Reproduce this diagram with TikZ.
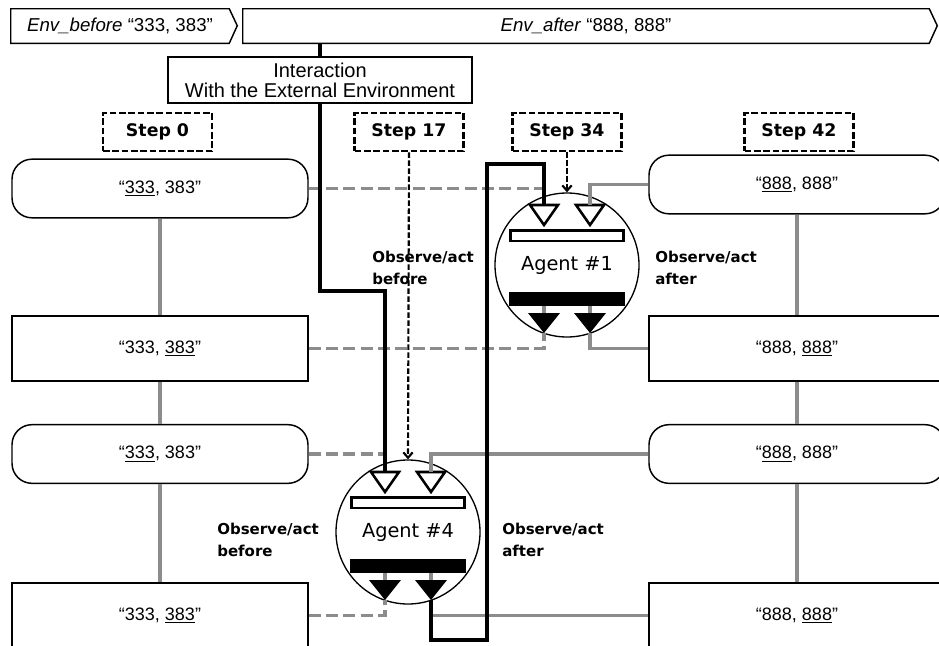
\documentclass[tikz,border=0pt]{standalone}
\usepackage{fontspec}
\setmainfont{Liberation Sans}
\newfontfamily\gothic{DejaVu Sans}
\usetikzlibrary{arrows.meta}
\definecolor{linkgray}{RGB}{140,140,140}
\tikzset{
  valbox/.style={draw, line width=1.1pt, minimum width=222pt, inner sep=0pt,
    font=\fontsize{13.5}{15}\selectfont},
  roundval/.style={valbox, rounded corners=15pt, minimum height=44pt},
  squareval/.style={valbox, minimum height=48.75pt},
  envtext/.style={minimum height=25.5pt, inner sep=0pt, font=\fontsize{14}{16}\selectfont},
  stepbox/.style={draw, line width=2.2pt, dash pattern=on 5pt off 2pt,
    minimum width=81.75pt, minimum height=28.5pt, inner sep=0pt,
    font=\gothic\bfseries\fontsize{13}{15}\selectfont},
  agentbody/.style={draw, circle, line width=1pt, minimum size=108pt, inner sep=0pt,
    font=\gothic\fontsize{14.5}{16}\selectfont},
  obslabel/.style={anchor=west, align=left, inner sep=0pt,
    font=\gothic\bfseries\fontsize{11.25}{16.5}\selectfont},
  actline/.style={line width=2.8pt},
  afterline/.style={draw=linkgray, line width=2.3pt},
  beforeline/.style={afterline, dash pattern=on 9pt off 4pt},
  watchline/.style={->, line width=1.6pt, dash pattern=on 4pt off 2pt},
}
\begin{document}
\begin{tikzpicture}[x=0.75pt, y=-0.75pt, >={Straight Barb[length=4pt, width=7pt]}]
\clip (0,0) rectangle (939,646);
%Dải môi trường
\node[envtext, minimum width=163.5pt] (envbefore) at (120,26) {\textit{Env\_before} “333, 383”};
\node[envtext, minimum width=514.5pt] (envafter) at (586,26) {\textit{Env\_after} “888, 888”};
\foreach \band in {envbefore,envafter}
\draw[line width=1.1pt] (\band.north west) -- (\band.north east) -- ++(8,17) -- (\band.south east) -- (\band.south west) -- cycle;
%Hộp tương tác
\node[draw, line width=1.1pt, minimum width=228pt, minimum height=34.5pt, inner sep=0pt,
  align=center, font=\fontsize{15}{15}\selectfont] (interact) at (320,80) {Interaction\\With the External Environment};
%Các bước
\node[stepbox] (step0) at (157.5,132) {Step 0};
\node[stepbox] (step17) at (409,132) {Step 17};
\node[stepbox] (step34) at (567,132) {Step 34};
\node[stepbox] (step42) at (799,132) {Step 42};
%Chuỗi bên trái và bên phải
\node[roundval] (l1) at (160,188.5) {“\underline{333}, 383”};
\node[squareval] (l2) at (160,348.5) {“333, \underline{383}”};
\node[roundval] (l3) at (160,454) {“\underline{333}, 383”};
\node[squareval] (l4) at (160,615.5) {“333, \underline{383}”};
\node[roundval] (r1) at (797,184.5) {“\underline{888}, 888”};
\node[squareval] (r2) at (797,348.5) {“888, \underline{888}”};
\node[roundval] (r3) at (797,454) {“\underline{888}, 888”};
\node[squareval] (r4) at (797,615.5) {“888, \underline{888}”};
\draw[afterline] (l1) -- (l2) (l2) -- (l3) (l3) -- (l4) (r1) -- (r2) (r2) -- (r3) (r3) -- (r4);
%Các tác tử
\foreach \n/\cx/\cy in {1/567/265, 4/408/532}{
\node[agentbody] (agent\n) at (\cx,\cy) {Agent \#\n};
\begin{scope}[shift={(\cx,\cy)}]
\node[draw, line width=1.9pt, minimum width=85pt, minimum height=7.9pt, inner sep=0pt] (agent\n-inbar) at (0,-29.5) {};
\node[fill, minimum width=87pt, minimum height=10.5pt, inner sep=0pt] (agent\n-outbar) at (0,34) {};
\draw[afterline] (-23,41) -- (-23,60) (23,41) -- (23,60);
\draw[line width=1.9pt] (-37,-60) -- (-9,-60) -- (-23,-40) -- cycle (9,-60) -- (37,-60) -- (23,-40) -- cycle;
\fill (-39,48) -- (-7,48) -- (-23,68) -- cycle (7,48) -- (39,48) -- (23,68) -- cycle;
\coordinate (agent\n-ina) at (-23,-60);
\coordinate (agent\n-inb) at (23,-60);
\coordinate (agent\n-outa) at (-23,68);
\coordinate (agent\n-outb) at (23,68);
\end{scope}
}
\node[obslabel] (obs1b) at (372,268) {Observe/act\\before};
\node[obslabel] (obs1a) at (655,268) {Observe/act\\after};
\node[obslabel] (obs4b) at (217,540) {Observe/act\\before};
\node[obslabel] (obs4a) at (502,540) {Observe/act\\after};
%Quan sát trước (nét đứt) và sau (nét liền)
\draw[beforeline] (l1.east) -- (l1.east -| agent1-ina)
  (l2.east) -| (agent1-outa)
  (l3.east) -- (l3.east -| agent4-ina)
  (l4.east) -| (agent4-outa);
\draw[afterline] (r1.west) -| (agent1-inb)
  (r2.west) -| (agent1-outb)
  (r3.west) -| (agent4-inb)
  (r4.west) -| (agent4-outb);
%Đường tương tác
\coordinate (looptop) at (487,164);
\draw[actline] (interact.north) -- (interact.north |- envafter.south);
\draw[actline] (interact.south) -- ++(0,187) -| (agent4-ina);
\draw[actline] (agent4-outb) -- ++(0,40) -| (looptop) -| (agent1-ina);
%Mũi tên từ các bước
\draw[watchline] (step17.south) -- (agent4.north);
\draw[watchline] (step34.south) -- (agent1.north);
\end{tikzpicture}
\end{document}
